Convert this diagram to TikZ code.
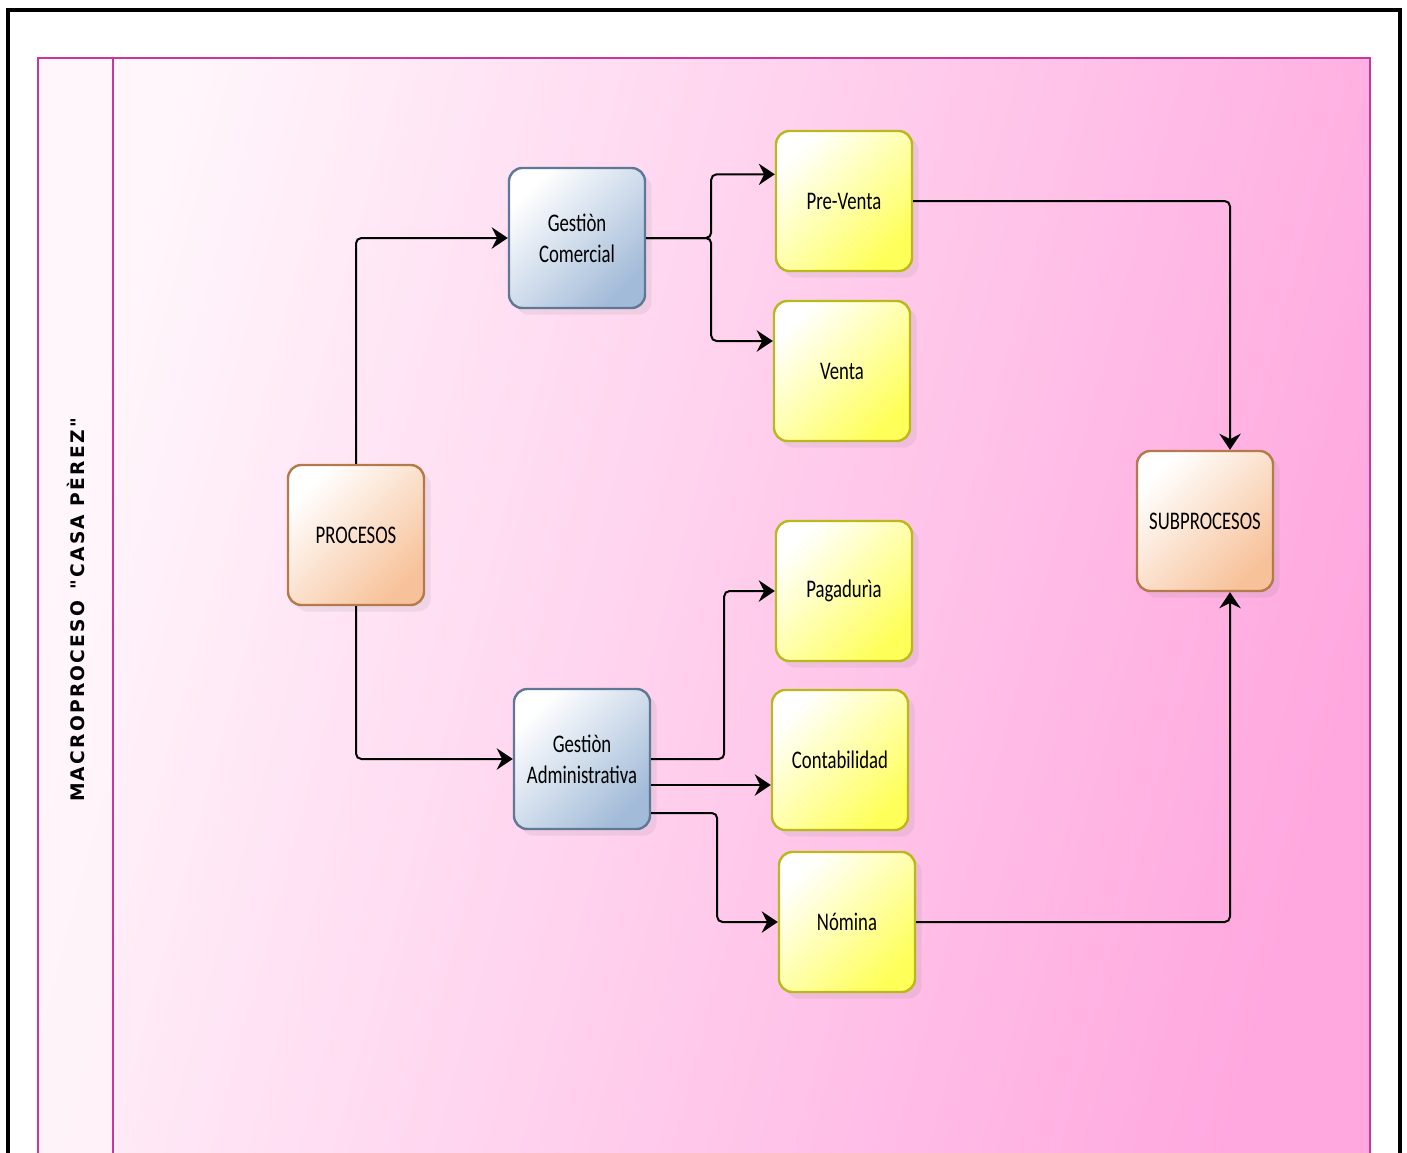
\documentclass[tikz,border=0pt]{standalone}
\usepackage{fontspec}
\setmainfont{Carlito}
\newfontfamily\boxfont[FakeStretch=0.74]{Carlito}
\newfontfamily\lanefont[LetterSpace=12]{DejaVu Sans}
\usetikzlibrary{arrows.meta,shadows,positioning}
\definecolor{poolline}{HTML}{C8389A}
\definecolor{poolleft}{HTML}{FFF6FB}
\definecolor{poolright}{HTML}{FFA8DF}
\definecolor{orangeline}{HTML}{B57A4C}
\definecolor{orangefill}{HTML}{F7C29A}
\definecolor{blueline}{HTML}{5F7896}
\definecolor{bluefill}{HTML}{A2BBD8}
\definecolor{yellowline}{HTML}{B9B91C}
\definecolor{yellowfill}{HTML}{FFFF5A}
\tikzset{
  task/.style={
    shape = rectangle,
    rounded corners = 10pt,
    line width = 1.8pt,
    minimum width = 102pt,
    minimum height = 105pt,
    align = center,
    font = \boxfont\fontsize{19}{23}\selectfont,
    shading angle = 45,
    drop shadow = {opacity=0.12, shadow xshift=5pt, shadow yshift=-5pt}
  },
  proc/.style={
    task,
    draw = orangeline,
    top color = white,
    bottom color = orangefill,
    shading angle = 45
  },
  gest/.style={
    task,
    draw = blueline,
    top color = white,
    bottom color = bluefill,
    shading angle = 45
  },
  sub/.style={
    task,
    draw = yellowline,
    top color = white,
    bottom color = yellowfill,
    shading angle = 45
  },
}
\tikzset{
  flow/.style={
    line width = 1.5pt,
    rounded corners = 4pt,
    -{Stealth[length=12pt, width=16pt, inset=4pt]}
  },
}
\begin{document}
\begin{tikzpicture}[x=0.75pt, y=-0.75pt]
\clip (0,0) rectangle (1407,1153);
\fill[white] (0,0) rectangle (1407,1153);
\draw[line width=2.4pt] (8,10) rectangle (1400,1180);
% pool and lane
\shade[left color=poolleft, right color=poolright, shading angle=75] (38,58) rectangle (1370,1180);
\fill[poolleft, opacity=0.7] (38,58) rectangle (113,1180);
\draw[poolline, line width=1.4pt] (38,58) rectangle (1370,1180);
\draw[poolline, line width=1.4pt] (113,58) -- (113,1180);
\node[rotate=90, font=\lanefont\bfseries\fontsize{14}{15}\selectfont] (lane) at (76,610) {MACROPROCESO\hspace{0.6em}"CASA PÈREZ"};

\node[proc] (proc) at (356,535) {PROCESOS};
\node[proc] (subp) at (1205,521) {SUBPROCESOS};
\node[gest] (gc) at (577,238) {Gestiòn\\Comercial};
\node[gest] (ga) at (582,759) {Gestiòn\\Administrativa};
		  \foreach \n/\x/\y/\t in {pv/844/201/Pre-Venta, ve/842/371/Venta, pag/844/591/Pagadurìa, cont/840/760/Contabilidad, nom/847/922/Nómina}{
		    \node[sub] (\n) at (\x,\y) {\t}; }

\draw[flow] (proc.north) |- (gc.west);
\draw[flow] (proc.south) |- (ga.west);
\draw[flow] (gc.east) -- ++(65,0) |- ([yshift=20pt]pv.west);
\draw[flow] (gc.east) -- ++(65,0) |- ([yshift=22.5pt]ve.west);
\draw[flow] (ga.east) -- ++(73,0) |- (pag.west);
\draw[flow] ([yshift=-19.5pt]ga.east) -- ([yshift=-18.75pt]cont.west);
\draw[flow] ([yshift=-40.5pt]ga.east) -- ++(66,0) |- (nom.west);
\draw[flow] (pv.east) -| ([xshift=18.75pt]subp.north);
\draw[flow] (nom.east) -| ([xshift=18.75pt]subp.south);
\end{tikzpicture}
\end{document}
